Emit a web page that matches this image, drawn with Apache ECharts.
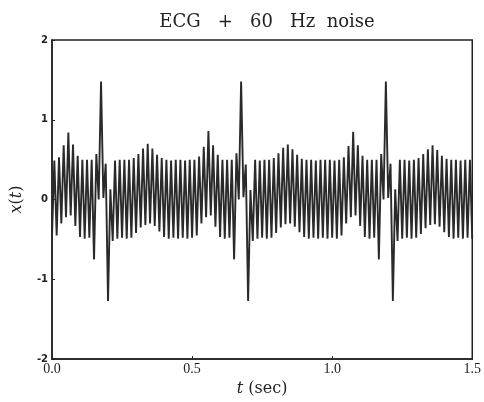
<!DOCTYPE html>
<html>
<head>
<meta charset="utf-8">
<script src="https://cdn.jsdelivr.net/npm/echarts@6/dist/echarts.min.js"></script>
<style>html,body{margin:0;padding:0;background:#fff}#c{width:484px;height:402px}</style>
</head>
<body>
<div id="c"></div>
<script>
// Sampling: two samples per 60 Hz cycle (peak / trough)
const sampleRate = 120; // samples per second
const signal = [
 -0.47, 0.49, -0.45, 0.53, -0.30, 0.68, -0.22, 0.84, -0.20, 0.69,
 -0.33, 0.55, -0.47, 0.50, -0.49, 0.50, -0.48, 0.50, -0.75, 0.57,
  0.00, 1.48, 0.02, 0.45, -1.27, 0.13, -0.52, 0.49, -0.49, 0.50,
 -0.48, 0.50, -0.49, 0.50, -0.48, 0.52, -0.42, 0.57, -0.35, 0.64,
 -0.32, 0.70, -0.30, 0.64, -0.33, 0.56, -0.40, 0.52, -0.47, 0.50,
 -0.49, 0.49, -0.48, 0.50, -0.49, 0.50, -0.48, 0.49, -0.49, 0.50,
 -0.48, 0.50, -0.45, 0.54, -0.30, 0.66, -0.22, 0.86, -0.20, 0.68,
 -0.34, 0.56, -0.47, 0.50, -0.49, 0.50, -0.48, 0.50, -0.75, 0.58,
  0.00, 1.48, 0.03, 0.44, -1.27, 0.12, -0.52, 0.50, -0.49, 0.49,
 -0.48, 0.50, -0.49, 0.50, -0.48, 0.52, -0.42, 0.58, -0.35, 0.65,
 -0.31, 0.69, -0.30, 0.63, -0.34, 0.56, -0.41, 0.51, -0.47, 0.50,
 -0.49, 0.50, -0.48, 0.49, -0.49, 0.50, -0.48, 0.50, -0.49, 0.50,
 -0.48, 0.49, -0.49, 0.50, -0.45, 0.53, -0.30, 0.67, -0.22, 0.85,
 -0.20, 0.68, -0.33, 0.55, -0.47, 0.50, -0.49, 0.50, -0.48, 0.50,
 -0.75, 0.57, 0.00, 1.48, 0.02, 0.45, -1.27, 0.13, -0.52, 0.50,
 -0.49, 0.50, -0.48, 0.49, -0.49, 0.50, -0.48, 0.52, -0.43, 0.57,
 -0.36, 0.63, -0.32, 0.68, -0.31, 0.62, -0.34, 0.55, -0.41, 0.51,
 -0.47, 0.50, -0.49, 0.50, -0.48, 0.49, -0.49, 0.50, -0.48, 0.50,
 -0.49
];
const xTickLabels = ['0.0', '0.5', '1.0', '1.5'];
const yTickLabels = ['-2', '-1', '0', '1', '2'];
const titleText = 'ECG   +   60   Hz  noise';

const seriesData = signal.map((v, i) => [i / sampleRate, v]);

const chart = echarts.init(document.getElementById('c'), null, {renderer: 'canvas'});
chart.setOption({
  animation: false,
  backgroundColor: '#ffffff',
  title: {
    text: titleText,
    left: 262, top: 8, textAlign: 'center',
    textStyle: {fontFamily: 'DejaVu Serif', fontSize: 18, fontWeight: 'normal', color: '#222'}
  },
  grid: {left: 52, right: 9, top: 40, bottom: 37, show: true, borderColor: '#222', borderWidth: 1.5, backgroundColor: 'transparent'},
  xAxis: {
    type: 'value', min: 0, max: 1.5, interval: 0.5,
    name: '{i|t} (sec)', nameLocation: 'middle', nameGap: 19,
    nameTextStyle: {fontFamily: 'DejaVu Serif', fontSize: 16, color: '#222',
      rich: {i: {fontFamily: 'DejaVu Serif', fontStyle: 'italic', fontSize: 16, color: '#222'}}},
    axisLine: {onZero: false, lineStyle: {color: '#222', width: 1.5}},
    axisTick: {inside: true, length: 3, lineStyle: {color: '#222'}},
    splitLine: {show: false},
    axisLabel: {margin: 3, fontFamily: 'Liberation Serif', fontSize: 14, color: '#222',
      formatter: v => xTickLabels[Math.round(v / 0.5)]}
  },
  yAxis: {
    type: 'value', min: -2, max: 2, interval: 1,
    name: '{i|x}({i|t})', nameLocation: 'middle', nameGap: 27, nameRotate: 90,
    nameTextStyle: {fontFamily: 'DejaVu Serif', fontSize: 16, color: '#222',
      rich: {i: {fontFamily: 'DejaVu Serif', fontStyle: 'italic', fontSize: 16, color: '#222'}}},
    axisLine: {onZero: false, lineStyle: {color: '#222', width: 1.5}},
    axisTick: {inside: true, length: 3, lineStyle: {color: '#222'}},
    splitLine: {show: false},
    axisLabel: {margin: 4, fontFamily: 'DejaVu Sans', fontWeight: 'bold', fontSize: 10, color: '#222',
      formatter: v => yTickLabels[Math.round(v) + 2]}
  },
  series: [{
    type: 'line', data: seriesData, showSymbol: false, symbol: 'none',
    lineStyle: {color: '#2a2a2a', width: 1.9}, silent: true
  }]
});
</script>
</body>
</html>
